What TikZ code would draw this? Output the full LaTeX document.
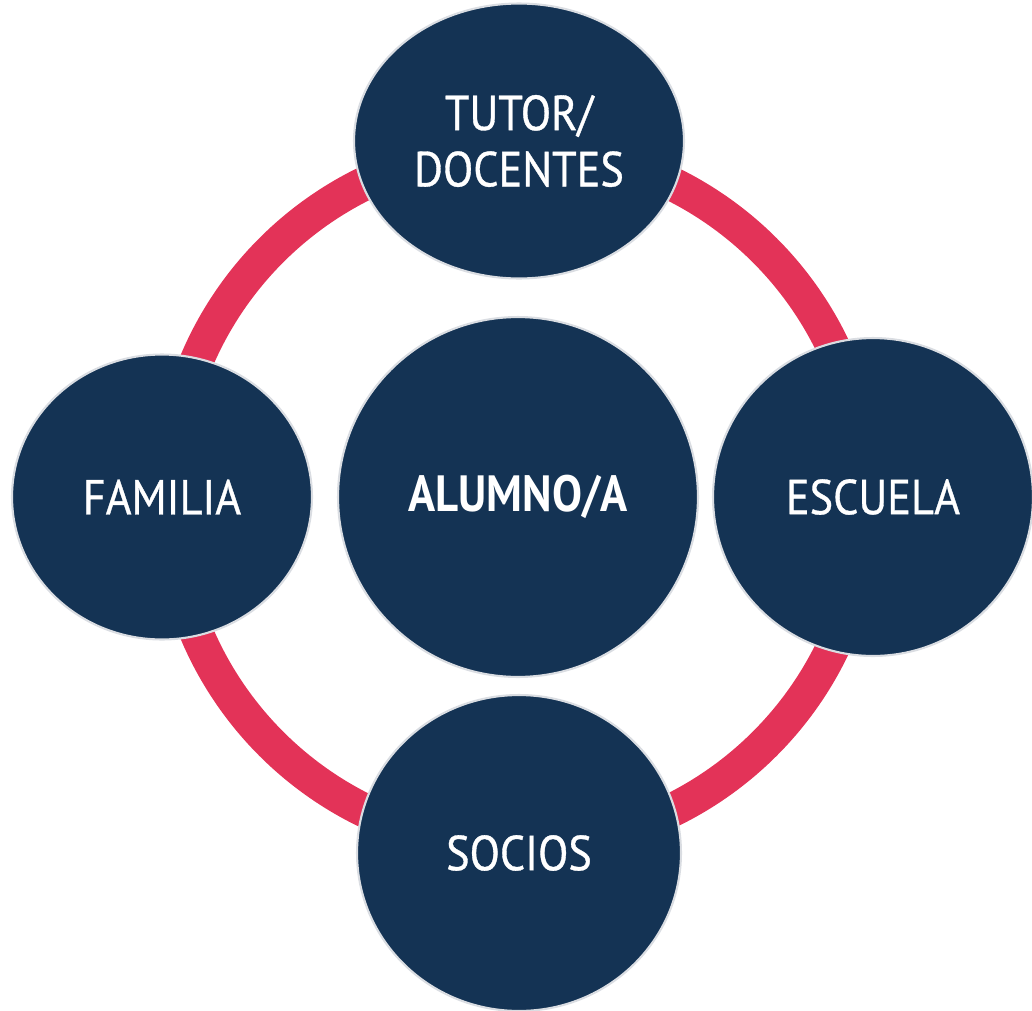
\documentclass[tikz,border=0pt]{standalone}
\usepackage{fontspec}
\setmainfont{PT Sans}
\newfontfamily\dinfont[FakeStretch=0.9,FakeBold=0.7]{PT Sans}
\newfontfamily\dinbold[FakeStretch=0.88]{PT Sans}
\usetikzlibrary{shapes.geometric}
\definecolor{navy}{HTML}{143354}
\definecolor{ringred}{HTML}{E33358}
\definecolor{rimgray}{HTML}{DADDE2}
\tikzset{
  bubble/.style={ellipse, fill=navy, draw=rimgray, line width=1.2pt, inner sep=0pt,
    text=white, font=\dinfont\fontsize{28}{32}\selectfont, align=center},
}
\begin{document}
\begin{tikzpicture}[x=0.02cm,y=-0.02cm]
\useasboundingbox (0,0) rectangle (1032,1011);
\draw[ringred, line width=0.68cm] (518,497) circle[radius=6.98cm];
\node[bubble, minimum width=6.6cm, minimum height=5.5cm] (tutor) at (519,141) {TUTOR/\\DOCENTES};
\node[bubble, minimum width=6.0cm, minimum height=5.7cm] (familia) at (162,497) {FAMILIA};
\node[bubble, minimum width=7.2cm, minimum height=7.2cm, font=\dinbold\bfseries\fontsize{29}{32}\selectfont] (alumno) at (518,497) {ALUMNO/A};
\node[bubble, minimum width=6.4cm, minimum height=6.36cm] (escuela) at (873,497) {ESCUELA};
\node[bubble, minimum width=6.48cm, minimum height=6.32cm] (socios) at (519,853) {SOCIOS};
\end{tikzpicture}
\end{document}
